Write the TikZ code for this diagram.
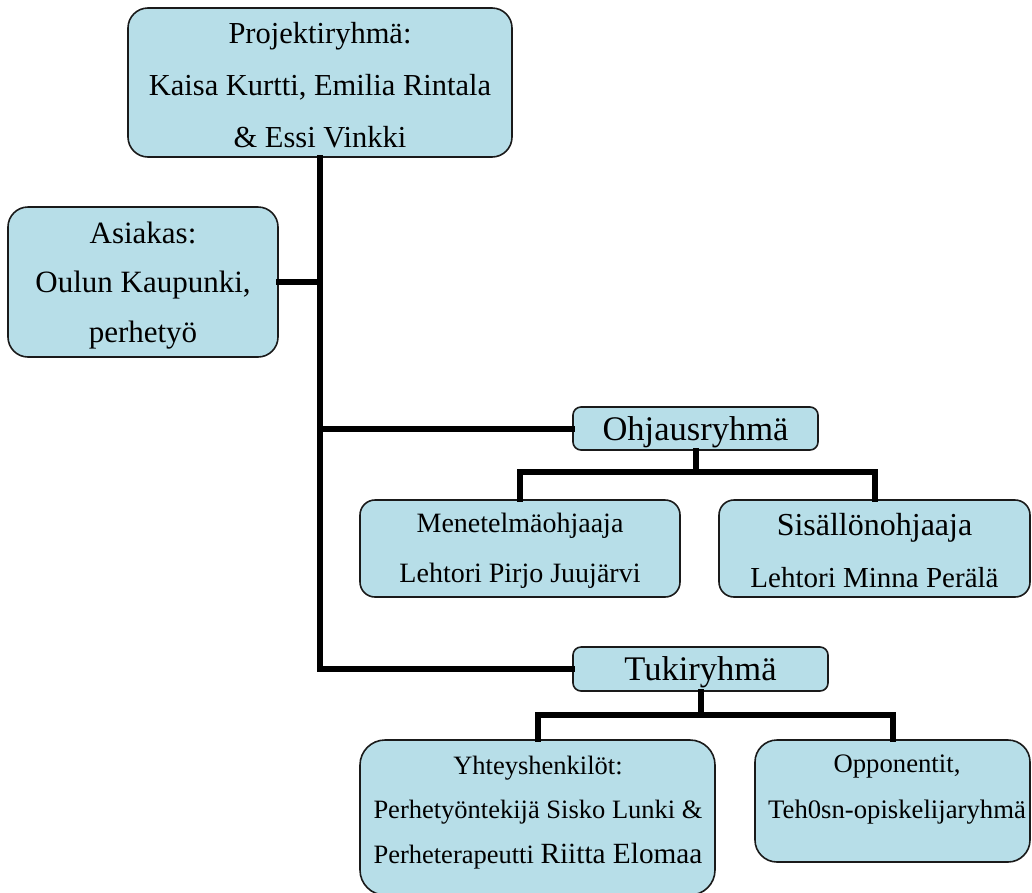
\documentclass[tikz,border=0pt]{standalone}
\usepackage{fontspec}
\setmainfont{Liberation Serif}
\definecolor{boxfill}{HTML}{B7DEE8}
\definecolor{boxline}{HTML}{1A1A1A}
\tikzset{
  box/.style={draw=boxline, line width=1.6pt, fill=boxfill, rounded corners=20pt, inner sep=0pt},
  txt/.style={align=center, inner sep=0pt, anchor=base},
  conn/.style={line width=6pt, line join=miter, line cap=rect}
}
\newcommand{\fs}[2]{\fontsize{#1}{#2}\selectfont}
\begin{document}
\begin{tikzpicture}[x=1pt,y=-1pt]
\useasboundingbox (0,0) rectangle (1032,892);
% boxes
\node[box, minimum width=384pt, minimum height=149pt] (proj) at (320,82.5) {};
\node[box, minimum width=270pt, minimum height=150pt] (asiakas) at (143,282) {};
\node[box, rounded corners=8pt, minimum width=245pt, minimum height=43pt] (ohjaus) at (695.5,428.5) {};
\node[box, rounded corners=15pt, minimum width=320pt, minimum height=97pt] (mene) at (520,548.5) {};
\node[box, rounded corners=15pt, minimum width=311pt, minimum height=97pt] (sis) at (874.5,548.5) {};
\node[box, rounded corners=8pt, minimum width=255pt, minimum height=44pt] (tuki) at (700.5,669) {};
\node[box, rounded corners=25pt, minimum width=355pt, minimum height=155pt] (yht) at (537.5,817.5) {};
\node[box, rounded corners=22pt, minimum width=275pt, minimum height=122pt] (opp) at (892.5,801) {};
% connectors
\coordinate (ob) at (695.5,472);
\coordinate (tb) at (700.5,715);
\draw[conn] (proj.south) |- (tuki.west);
\draw[conn] (asiakas.east) -- (asiakas.east -| proj.south);
\draw[conn] (ohjaus.west) -- (ohjaus.west -| proj.south);
\draw[conn] (ohjaus.south) -- (ob);
\draw[conn] (mene.north) |- (ob) -| (sis.north);
\draw[conn] (tuki.south) -- (tb);
\draw[conn] (yht.north) |- (tb) -| (opp.north);
% texts (anchored at the baseline of their last line)
\node[txt, font={\fs{30.5}{52}}] (projT) at (320,147)
  {Projektiryhmä:\\Kaisa Kurtti, Emilia Rintala\\\& Essi Vinkki};
\node[txt, font={\fs{31}{49.5}}] (asiakasT) at (143,342)
  {Asiakas:\\Oulun Kaupunki,\\perhetyö};
\node[txt, font={\fs{34.5}{40}}] (ohjausT) at (695.5,440) {Ohjausryhmä};
\node[txt, font={\fs{28}{50}}] (meneT) at (520,582)
  {Menetelmäohjaaja\\Lehtori Pirjo Juujärvi};
\node[txt, font={\fs{32}{52}}] (sisT) at (874.5,587)
  {Sisällönohjaaja\\{\fs{29}{52}Lehtori Minna Perälä}};
\node[txt, font={\fs{34.5}{40}}] (tukiT) at (700.5,680) {Tukiryhmä};
\node[txt, font={\fs{26.5}{44.5}}] (yhtT) at (538,863)
  {Yhteyshenkilöt:\\Perhetyöntekijä Sisko Lunki \&\\Perheterapeutti {\fs{29.3}{44.5}Riitta Elomaa}};
\node[txt, font={\fs{26.7}{46}}] (oppT) at (897,818)
  {Opponentit,\\Teh0sn-opiskelijaryhmä};
\end{tikzpicture}
\end{document}
